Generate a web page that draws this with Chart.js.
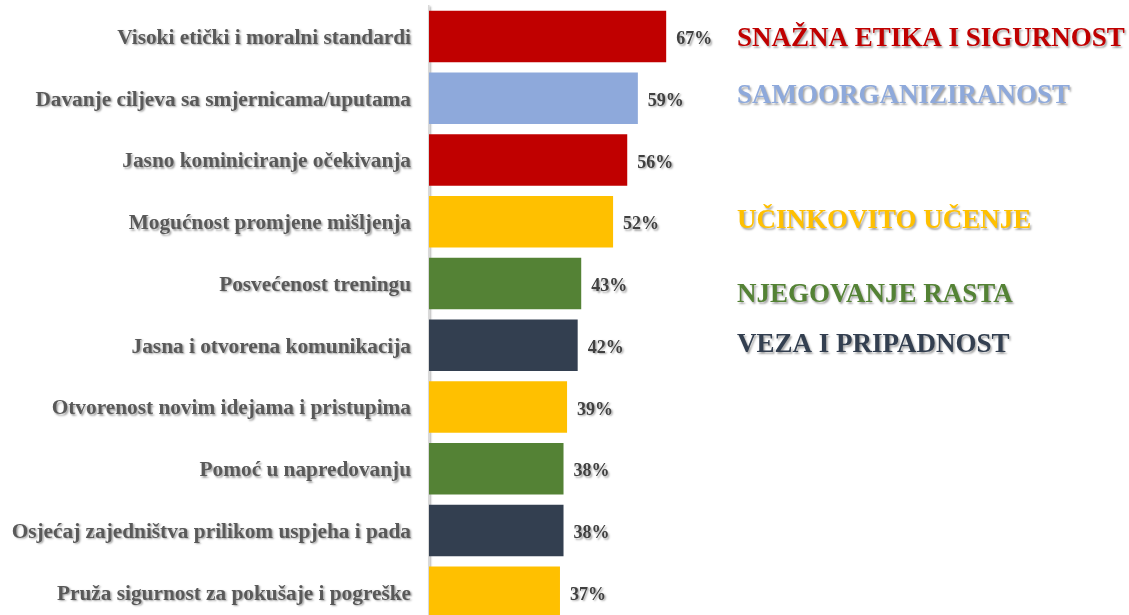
<!DOCTYPE html>
<html>
<head>
<meta charset="utf-8">
<script src="https://cdn.jsdelivr.net/npm/chart.js@4.4.0/dist/chart.umd.min.js"></script>
<style>
  html, body { margin: 0; padding: 0; background: #ffffff; overflow: hidden; }
  #bar-chart { display: block; }
</style>
</head>
<body>
<canvas id="bar-chart" width="1129" height="630"></canvas>
<script>
var app = (function() {
  // chart data
  var categories = [
    "Visoki etički i moralni standardi",
    "Davanje ciljeva sa smjernicama/uputama",
    "Jasno kominiciranje očekivanja",
    "Mogućnost promjene mišljenja",
    "Posvećenost treningu",
    "Jasna i otvorena komunikacija",
    "Otvorenost novim idejama i pristupima",
    "Pomoć u napredovanju",
    "Osjećaj zajedništva prilikom uspjeha i pada",
    "Pruža sigurnost za pokušaje i pogreške"
  ];
  var values = [67, 59, 56, 52, 43, 42, 39, 38, 38, 37];
  // which group every bar belongs to (index into groupNames)
  var barGroups = [0, 1, 0, 2, 3, 4, 2, 3, 4, 2];

  var groupNames = [
    "SNAŽNA ETIKA I SIGURNOST",
    "SAMOORGANIZIRANOST",
    "UČINKOVITO UČENJE",
    "NJEGOVANJE RASTA",
    "VEZA I PRIPADNOST"
  ];
  var groupColors = ["#C00000", "#8EA9DB", "#FFC000", "#548235", "#333F50"];

  var FONT = "'Liberation Serif', 'Times New Roman', serif";

  function setShadow(ctx) {
    ctx.shadowColor = "rgba(0,0,0,0.35)";
    ctx.shadowOffsetX = 1.5;
    ctx.shadowOffsetY = 1.5;
    ctx.shadowBlur = 2;
  }

  function clearShadow(ctx) {
    ctx.shadowColor = "rgba(0,0,0,0)";
    ctx.shadowOffsetX = 0;
    ctx.shadowOffsetY = 0;
    ctx.shadowBlur = 0;
  }

  // shadow only for the axis labels, not for the bars
  var shadowPlugin = {
    id: "labelShadow",
    beforeDraw: function(chart) { setShadow(chart.ctx); },
    beforeDatasetsDraw: function(chart) { clearShadow(chart.ctx); }
  };

  // percent labels at the end of the bars
  var valuePlugin = {
    id: "valueLabels",
    afterDatasetsDraw: function(chart) {
      var ctx = chart.ctx;
      var meta = chart.getDatasetMeta(0);
      ctx.save();
      setShadow(ctx);
      ctx.font = "bold 18px " + FONT;
      ctx.fillStyle = "#404040";
      ctx.textAlign = "left";
      ctx.textBaseline = "middle";
      meta.data.forEach(function(bar, i) {
        ctx.fillText(values[i] + "%", bar.x + 10, bar.y + 3);
      });
      ctx.restore();
    }
  };

  // group titles on the right
  var groupPlugin = {
    id: "groupTitles",
    afterDraw: function(chart) {
      var ctx = chart.ctx;
      var baselines = [46, 103, 228, 302, 352];
      ctx.save();
      setShadow(ctx);
      ctx.font = "bold 27px " + FONT;
      ctx.textAlign = "left";
      ctx.textBaseline = "alphabetic";
      groupNames.forEach(function(name, i) {
        ctx.fillStyle = groupColors[i];
        ctx.fillText(name, 737, baselines[i]);
      });
      ctx.restore();
    }
  };

  function runChart() {
    var colors = barGroups.map(function(g) { return groupColors[g]; });
    new Chart(document.getElementById("bar-chart"), {
      type: "bar",
      data: {
        labels: categories,
        datasets: [{
          data: values,
          backgroundColor: colors,
          borderWidth: 0,
          categoryPercentage: 1,
          barPercentage: 0.834
        }]
      },
      options: {
        indexAxis: "y",
        responsive: false,
        animation: false,
        layout: { padding: { top: 5.6, bottom: 7, left: 0, right: 346 } },
        plugins: { legend: { display: false }, tooltip: { enabled: false } },
        scales: {
          x: { display: false, min: 0, max: 100 },
          y: {
            grid: { display: false, drawTicks: false },
            border: { display: true, color: "#d9d9d9", width: 1.5 },
            ticks: {
              color: "#595959",
              padding: 18,
              labelOffset: 2,
              font: { family: FONT, size: 21.3, weight: "bold" }
            },
            afterFit: function(scale) {
              scale.width = 429;
              scale.paddingTop = 0;
              scale.paddingBottom = 0;
            }
          }
        }
      },
      plugins: [shadowPlugin, valuePlugin, groupPlugin]
    });
  }

  runChart();
})();
</script>
</body>
</html>
